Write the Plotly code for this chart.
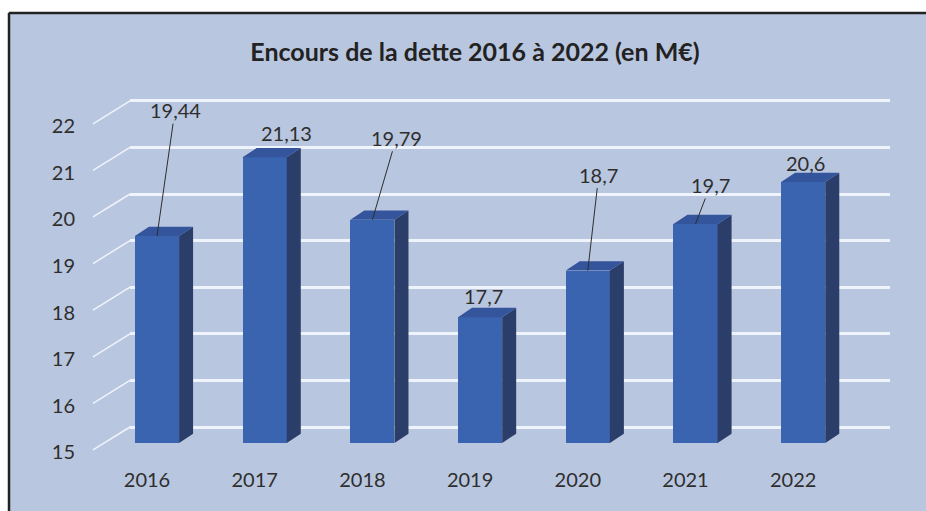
import plotly.graph_objects as go

# ---- data ----
years = ["2016", "2017", "2018", "2019", "2020", "2021", "2022"]
values = [19.44, 21.13, 19.79, 17.7, 18.7, 19.7, 20.6]
value_labels = ["19,44", "21,13", "19,79", "17,7", "18,7", "19,7", "20,6"]
y_ticks = [15, 16, 17, 18, 19, 20, 21, 22]
title_text = "Encours de la dette 2016 à 2022 (en M€)"

# label placement (pixel offsets from bar top) and whether a leader line is drawn
label_dx = [18, 22, 24, 3, 11, 15, 2]
label_dy = [-126, -24, -82, -21, -96, -39, -19]
leader = [True, False, True, False, True, True, False]

# ---- geometry / style constants ----
W, H = 926, 511
L, R, T, B = 130, 890, 90, 466
BASE = 15
XR = [-0.2507, 6.806]
YR = [14.506, 22.575]
BAR_W = 0.41
DX, DY = 0.13, 0.2          # 3D depth of bars (data units)
GRID_OFF = 0.343            # back wall offset
LABEL_OFF = 0.2             # y tick labels sit on the front floor edge

BG = "#b9c6df"
FRONT = "#3a63b0"
SIDE = "#2b3d69"
TOP = "#34549c"
TXT = "#2e2e2e"
FONT = "Lato, 'Open Sans', sans-serif"

def px_x(px):
    return (px - L) / (R - L)

def py_y(py):
    return (B - py) / (B - T)

def val_paper(v):
    return (v - YR[0]) / (YR[1] - YR[0])

xs = list(range(len(years)))

fig = go.Figure()

# front faces
fig.add_trace(go.Bar(
    x=xs, y=[v - BASE for v in values], base=BASE, width=BAR_W,
    marker=dict(color=FRONT, line=dict(width=0)),
    hoverinfo="skip", showlegend=False,
))

# side faces and top faces as polygons derived from the values
sx, sy, tx, ty = [], [], [], []
for i, v in zip(xs, values):
    xl, xr = i - BAR_W / 2, i + BAR_W / 2
    sx += [xr, xr + DX, xr + DX, xr, xr, None]
    sy += [BASE, BASE + DY, v + DY, v, BASE, None]
    tx += [xl, xl + DX, xr + DX, xr, xl, None]
    ty += [v, v + DY, v + DY, v, v, None]
fig.add_trace(go.Scatter(x=sx, y=sy, fill="toself", fillcolor=SIDE, mode="none",
                         hoverinfo="skip", showlegend=False))
fig.add_trace(go.Scatter(x=tx, y=ty, fill="toself", fillcolor=TOP, mode="none",
                         hoverinfo="skip", showlegend=False))

# invisible anchors for the label axis and the back-wall grid axis
fig.add_trace(go.Scatter(x=[xs[0]], y=[y_ticks[0]], yaxis="y2", mode="markers",
                         marker=dict(opacity=0), hoverinfo="skip", showlegend=False))
fig.add_trace(go.Scatter(x=[xs[0]], y=[y_ticks[0]], yaxis="y3", mode="markers",
                         marker=dict(opacity=0), hoverinfo="skip", showlegend=False))

shapes = []
# white surround outside the scanned frame + black frame edges
shapes.append(dict(type="rect", xref="paper", yref="paper",
                   x0=px_x(-5), x1=px_x(W + 5), y0=py_y(12), y1=py_y(-5),
                   fillcolor="white", line=dict(width=0), layer="below"))
shapes.append(dict(type="rect", xref="paper", yref="paper",
                   x0=px_x(-5), x1=px_x(8), y0=py_y(H + 5), y1=py_y(-5),
                   fillcolor="white", line=dict(width=0), layer="below"))
shapes.append(dict(type="line", xref="paper", yref="paper",
                   x0=px_x(9), x1=px_x(W + 5), y0=py_y(13), y1=py_y(13),
                   line=dict(color="#222222", width=2.5)))
shapes.append(dict(type="line", xref="paper", yref="paper",
                   x0=px_x(9), x1=px_x(9), y0=py_y(13), y1=py_y(H + 5),
                   line=dict(color="#222222", width=2.5)))
# diagonal side-wall grid connectors
for v in y_ticks:
    shapes.append(dict(type="line", xref="paper", yref="paper",
                       x0=0, y0=val_paper(v + GRID_OFF),
                       x1=px_x(93), y1=val_paper(v - 0.15),
                       line=dict(color="rgba(245,248,255,0.9)", width=1.5)))

annotations = []
for i, v, lab, dx, dy, ld in zip(xs, values, value_labels, label_dx, label_dy, leader):
    annotations.append(dict(
        x=i, y=v, xref="x", yref="y", text=lab,
        showarrow=True, arrowhead=0, arrowwidth=1,
        arrowcolor=TXT if ld else "rgba(0,0,0,0)",
        ax=dx, ay=dy, standoff=0,
        font=dict(family=FONT, size=20, color=TXT),
    ))

fig.update_layout(
    width=W, height=H,
    margin=dict(l=L, r=W - R, t=T, b=H - B, pad=0),
    paper_bgcolor=BG, plot_bgcolor=BG,
    title=dict(text="<b>" + title_text + "</b>", x=475 / W, xanchor="center",
               y=1 - 52 / H, yanchor="middle",
               font=dict(family=FONT, size=25, color="#222222")),
    xaxis=dict(range=XR, tickvals=xs, ticktext=years, showgrid=False, zeroline=False,
               showline=False, ticks="", ticklabelshift=-10,
               tickfont=dict(family=FONT, size=20, color=TXT)),
    yaxis=dict(range=YR, showgrid=False, zeroline=False, showticklabels=False, showline=False),
    yaxis2=dict(range=[YR[0] + LABEL_OFF, YR[1] + LABEL_OFF], overlaying="y", anchor="x",
                side="left", tickvals=y_ticks, ticktext=[str(t) for t in y_ticks],
                showgrid=False, zeroline=False, showline=False,
                ticks="outside", ticklen=50, tickcolor="rgba(0,0,0,0)",
                tickfont=dict(family=FONT, size=20, color=TXT)),
    yaxis3=dict(range=[YR[0] - GRID_OFF, YR[1] - GRID_OFF], overlaying="y", anchor="x",
                side="left", tickvals=y_ticks, showticklabels=False,
                showgrid=True, gridcolor="rgba(245,248,255,0.9)", gridwidth=2.5,
                zeroline=False, showline=False),
    shapes=shapes,
    annotations=annotations,
    bargap=0,
)

fig.write_html("out.html", config={"displayModeBar": False},
               post_script="document.body.style.margin='0';")
